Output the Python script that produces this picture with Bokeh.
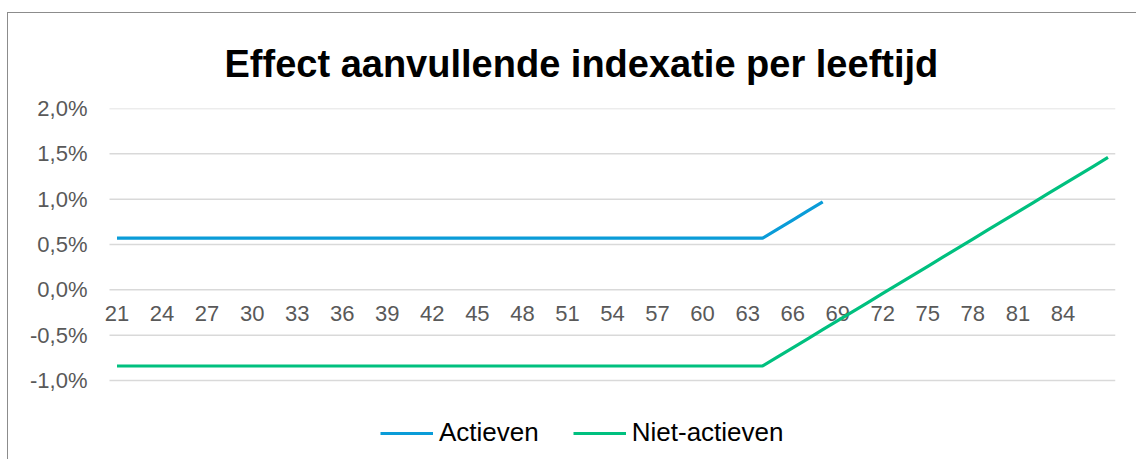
from bokeh.plotting import figure
from bokeh.models import Range1d, FixedTicker, Legend, LegendItem
from bokeh.core.properties import value
from bokeh.embed import file_html
from bokeh.resources import INLINE

# ---- data (values in %) ----
ages = list(range(21, 88))

actieven_ages = list(range(21, 69))
actieven = [0.57, 0.57, 0.57, 0.57, 0.57, 0.57, 0.57, 0.57, 0.57, 0.57,   # 21-30
            0.57, 0.57, 0.57, 0.57, 0.57, 0.57, 0.57, 0.57, 0.57, 0.57,   # 31-40
            0.57, 0.57, 0.57, 0.57, 0.57, 0.57, 0.57, 0.57, 0.57, 0.57,   # 41-50
            0.57, 0.57, 0.57, 0.57, 0.57, 0.57, 0.57, 0.57, 0.57, 0.57,   # 51-60
            0.57, 0.57, 0.57, 0.57, 0.67, 0.77, 0.87, 0.97]               # 61-68

niet_actieven = [-0.84, -0.84, -0.84, -0.84, -0.84, -0.84, -0.84, -0.84, -0.84, -0.84,  # 21-30
                 -0.84, -0.84, -0.84, -0.84, -0.84, -0.84, -0.84, -0.84, -0.84, -0.84,  # 31-40
                 -0.84, -0.84, -0.84, -0.84, -0.84, -0.84, -0.84, -0.84, -0.84, -0.84,  # 41-50
                 -0.84, -0.84, -0.84, -0.84, -0.84, -0.84, -0.84, -0.84, -0.84, -0.84,  # 51-60
                 -0.84, -0.84, -0.84, -0.84, -0.74, -0.64, -0.54, -0.44, -0.34, -0.24,  # 61-70
                 -0.14, -0.04, 0.06, 0.16, 0.26, 0.36, 0.46, 0.56, 0.66, 0.76,          # 71-80
                 0.86, 0.96, 1.06, 1.16, 1.26, 1.36, 1.46]                              # 81-87

x_tick_ages = [21, 24, 27, 30, 33, 36, 39, 42, 45, 48, 51, 54, 57, 60, 63, 66, 69, 72, 75, 78, 81, 84]
x_tick_labels = ["21", "24", "27", "30", "33", "36", "39", "42", "45", "48", "51",
                 "54", "57", "60", "63", "66", "69", "72", "75", "78", "81", "84"]
y_ticks = [-1.0, -0.5, 0.0, 0.5, 1.0, 1.5, 2.0]
y_tick_labels = ["-1,0%", "-0,5%", "0,0%", "0,5%", "1,0%", "1,5%", "2,0%"]

title_text = "Effect aanvullende indexatie per leeftijd"
series_names = ["Actieven", "Niet-actieven"]
colors = ["#0a9cd8", "#00c07f"]

FONT = "Liberation Sans"

# ---- layout (pixels) ----
PLOT_W = 1006          # width of the category band
PLOT_H = 272           # height of the -1%..2% value band
PAD_L = 8              # room left of the band so the first x label fits
BELOW = 75             # room under the value band for the legend
Y_LO, Y_HI = y_ticks[0], y_ticks[-1]

band_lo, band_hi = ages[0] - 0.5, ages[-1] + 0.5
px_per_age = PLOT_W / (band_hi - band_lo)
px_per_pct = PLOT_H / (Y_HI - Y_LO)

p = figure(
    output_backend="svg", toolbar_location=None,
    frame_width=PLOT_W + PAD_L, frame_height=PLOT_H + BELOW,
    min_border_left=93, min_border_right=22, min_border_top=95, min_border_bottom=5,
    x_range=Range1d(band_lo - PAD_L / px_per_age, band_hi),
    y_range=Range1d(Y_LO - BELOW / px_per_pct, Y_HI),
    title=title_text,
)
p.margin = (12, 0, 0, 7)
p.styles = {"border-top": "1px solid #8c8c8c", "border-left": "1px solid #8c8c8c"}

p.title.text_font = FONT
p.title.text_font_size = "38px"
p.title.text_font_style = "bold"
p.title.text_color = "#000000"
p.title.align = "left"
p.title.offset = 123
p.title.standoff = 48

p.outline_line_color = None
p.background_fill_color = "white"
p.border_fill_color = "white"

# horizontal gridlines spanning the category band only
p.xgrid.grid_line_color = None
p.ygrid.grid_line_color = None
p.segment(x0=[band_lo] * len(y_ticks), x1=[band_hi] * len(y_ticks),
          y0=y_ticks, y1=y_ticks, line_color="#d9d9d9", line_width=1.5)

# y axis
p.yaxis.ticker = FixedTicker(ticks=y_ticks)
p.yaxis.major_label_overrides = {t: l for t, l in zip(y_ticks, y_tick_labels)}
p.yaxis.axis_line_color = None
p.yaxis.major_tick_line_color = None
p.yaxis.minor_tick_line_color = None
p.yaxis.major_tick_out = 0
p.yaxis.major_label_standoff = 14
p.yaxis.major_label_text_font = FONT
p.yaxis.major_label_text_font_size = "22px"
p.yaxis.major_label_text_color = "#595959"

# category labels hang under the 0% line (Excel style axis crossing at 0)
p.xaxis.visible = False
p.text(x=x_tick_ages, y=[0.0] * len(x_tick_ages), text=x_tick_labels,
       text_align="center", text_baseline="top", y_offset=16,
       text_font=value(FONT), text_font_size="22px", text_color="#595959")

r1 = p.line(actieven_ages, actieven, line_color=colors[0], line_width=3.2)
r2 = p.line(ages, niet_actieven, line_color=colors[1], line_width=3.2)

legend = Legend(items=[LegendItem(label=series_names[0], renderers=[r1]),
                       LegendItem(label=series_names[1], renderers=[r2])],
                orientation="horizontal", location=(PAD_L + 271, 7))
legend.label_text_font = FONT
legend.label_text_font_size = "26px"
legend.label_text_color = "#000000"
legend.glyph_width = 53
legend.glyph_height = 22
legend.label_standoff = 6
legend.spacing = 34
legend.padding = 0
legend.margin = 0
legend.border_line_color = None
legend.background_fill_alpha = 0
p.add_layout(legend, "center")

open("out.html", "w").write(file_html(p, INLINE))
